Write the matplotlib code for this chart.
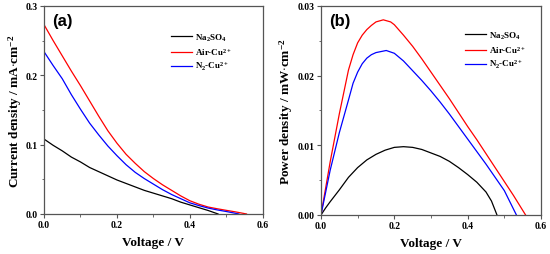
import matplotlib
matplotlib.use("Agg")
import matplotlib.pyplot as plt
from matplotlib.ticker import MultipleLocator, FormatStrFormatter

# ---- data ----
# Panel (a): current density vs voltage
v_na_i = [0, 0.025, 0.05, 0.075, 0.1, 0.125, 0.15, 0.175, 0.2, 0.225, 0.25, 0.275, 0.3,
          0.325, 0.35, 0.375, 0.4, 0.425, 0.45, 0.477]
i_na = [0.108, 0.099, 0.091, 0.082, 0.075, 0.067, 0.061, 0.055, 0.049, 0.044, 0.039, 0.034,
        0.030, 0.026, 0.022, 0.017, 0.013, 0.009, 0.005, 0.0]

v_air_i = [0, 0.025, 0.05, 0.075, 0.1, 0.125, 0.15, 0.175, 0.2, 0.225, 0.25, 0.275, 0.3,
           0.325, 0.35, 0.375, 0.4, 0.425, 0.45, 0.475, 0.5, 0.525, 0.555]
i_air = [0.273, 0.250, 0.228, 0.206, 0.185, 0.163, 0.141, 0.120, 0.102, 0.086, 0.073, 0.061,
         0.051, 0.042, 0.034, 0.026, 0.019, 0.014, 0.010, 0.0075, 0.0052, 0.003, 0.0]

v_n2_i = [0, 0.025, 0.05, 0.075, 0.1, 0.125, 0.15, 0.175, 0.2, 0.225, 0.25, 0.275, 0.3,
          0.325, 0.35, 0.375, 0.4, 0.425, 0.45, 0.475, 0.5, 0.534]
i_n2 = [0.234, 0.214, 0.195, 0.172, 0.151, 0.131, 0.114, 0.098, 0.084, 0.071, 0.060, 0.051,
        0.043, 0.035, 0.028, 0.022, 0.016, 0.012, 0.0085, 0.0058, 0.0035, 0.0]

# Panel (b): power density vs voltage
v_na_p = [0, 0.0125, 0.025, 0.05, 0.075, 0.1, 0.125, 0.15, 0.175, 0.2, 0.225, 0.25, 0.275,
          0.3, 0.325, 0.35, 0.375, 0.4, 0.425, 0.45, 0.465, 0.48]
p_na = [0, 0.0010, 0.0019, 0.0036, 0.0054, 0.0068, 0.0079, 0.0087, 0.0093, 0.0097, 0.0098,
        0.0097, 0.0094, 0.0089, 0.0084, 0.0077, 0.0068, 0.0058, 0.0047, 0.0033, 0.0020, 0.0]

v_air_p = [0, 0.025, 0.05, 0.075, 0.0875, 0.1, 0.1125, 0.125, 0.1375, 0.15, 0.17, 0.19, 0.2,
           0.225, 0.25, 0.275, 0.3, 0.325, 0.35, 0.375, 0.4, 0.425, 0.45, 0.475, 0.5, 0.525, 0.558]
p_air = [0, 0.0076, 0.0145, 0.0208, 0.0230, 0.0247, 0.0258, 0.0266, 0.0272, 0.0277, 0.0280,
         0.0277, 0.0273, 0.0258, 0.0242, 0.0224, 0.0205, 0.0186, 0.0167, 0.0147, 0.0127,
         0.0108, 0.0088, 0.0068, 0.0048, 0.0028, 0.0]

v_n2_p = [0, 0.025, 0.05, 0.075, 0.0875, 0.1, 0.1125, 0.125, 0.1375, 0.15, 0.178, 0.2, 0.225,
          0.25, 0.275, 0.3, 0.325, 0.35, 0.375, 0.4, 0.425, 0.45, 0.475, 0.5, 0.533]
p_n2 = [0, 0.0064, 0.0118, 0.0165, 0.0189, 0.0205, 0.0217, 0.0225, 0.0230, 0.0233, 0.0236,
        0.0232, 0.0221, 0.0207, 0.0193, 0.0178, 0.0162, 0.0145, 0.0127, 0.0109, 0.0091,
        0.0073, 0.0054, 0.0035, 0.0]

labels = [r"Na$_2$SO$_4$", r"Air-Cu$^{2+}$", r"N$_2$-Cu$^{2+}$"]
colors = ["black", "red", "blue"]

plt.rcParams["font.family"] = ["Liberation Serif", "DejaVu Serif"]
plt.rcParams["font.weight"] = "bold"
plt.rcParams["mathtext.fontset"] = "custom"
plt.rcParams["mathtext.rm"] = "Liberation Serif:bold"
plt.rcParams["mathtext.it"] = "Liberation Serif:bold"
plt.rcParams["mathtext.bf"] = "Liberation Serif:bold"
plt.rcParams["mathtext.default"] = "rm"

fig = plt.figure(figsize=(5.5, 2.55), dpi=100)
axa = fig.add_axes([0.080, 0.157, 0.398, 0.816])
axb = fig.add_axes([0.5836, 0.153, 0.400, 0.820])

spine_c = "#555555"

def style(ax, ymax, ymaj, ymin, yfmt):
    ax.set_xlim(0, 0.6)
    ax.set_ylim(0, ymax)
    ax.xaxis.set_major_locator(MultipleLocator(0.2))
    ax.xaxis.set_minor_locator(MultipleLocator(0.1))
    ax.yaxis.set_major_locator(MultipleLocator(ymaj))
    ax.yaxis.set_minor_locator(MultipleLocator(ymin))
    ax.xaxis.set_major_formatter(FormatStrFormatter("%.1f"))
    ax.yaxis.set_major_formatter(FormatStrFormatter(yfmt))
    for s in ax.spines.values():
        s.set_color(spine_c)
        s.set_linewidth(0.9)
    ax.tick_params(which="major", direction="out", length=3, width=0.8,
                   color=spine_c, labelsize=7, pad=1.5)
    ax.tick_params(which="minor", direction="out", length=1.8, width=0.6, color=spine_c)
    ax.tick_params(top=False, right=False)
    for lab in ax.get_xticklabels() + ax.get_yticklabels():
        lab.set_fontweight("bold")
    ax.set_xlabel("Voltage / V", fontsize=9.5, fontweight="bold", labelpad=5)

lw = 0.9
# Panel (a)
axa.plot(v_na_i, i_na, color=colors[0], lw=lw, label=labels[0])
axa.plot(v_air_i, i_air, color=colors[1], lw=lw, label=labels[1])
axa.plot(v_n2_i, i_n2, color=colors[2], lw=lw, label=labels[2])
style(axa, 0.3, 0.1, 0.05, "%.1f")
axa.set_ylabel(r"Current density / mA$\cdot$cm$^{-2}$", fontsize=9.5, fontweight="bold", labelpad=1)
axa.text(0.035, 0.965, "(a)", transform=axa.transAxes, fontsize=12, fontweight="bold",
         family="Liberation Sans", va="top", ha="left")
axa.legend(loc="upper left", bbox_to_anchor=(0.565, 0.895), frameon=False, fontsize=6.5,
           handlelength=2.3, handletextpad=0.3, labelspacing=0.35, borderaxespad=0)

# Panel (b)
axb.plot(v_na_p, p_na, color=colors[0], lw=lw, label=labels[0])
axb.plot(v_air_p, p_air, color=colors[1], lw=lw, label=labels[1])
axb.plot(v_n2_p, p_n2, color=colors[2], lw=lw, label=labels[2])
style(axb, 0.03, 0.01, 0.005, "%.2f")
axb.set_ylabel(r"Power density / mW$\cdot$cm$^{-2}$", fontsize=9.5, fontweight="bold", labelpad=2)
axb.text(0.035, 0.965, "(b)", transform=axb.transAxes, fontsize=12, fontweight="bold",
         family="Liberation Sans", va="top", ha="left")
axb.legend(loc="upper left", bbox_to_anchor=(0.64, 0.905), frameon=False, fontsize=6.5,
           handlelength=2.3, handletextpad=0.3, labelspacing=0.35, borderaxespad=0)

fig.savefig("out.png", dpi=100)
